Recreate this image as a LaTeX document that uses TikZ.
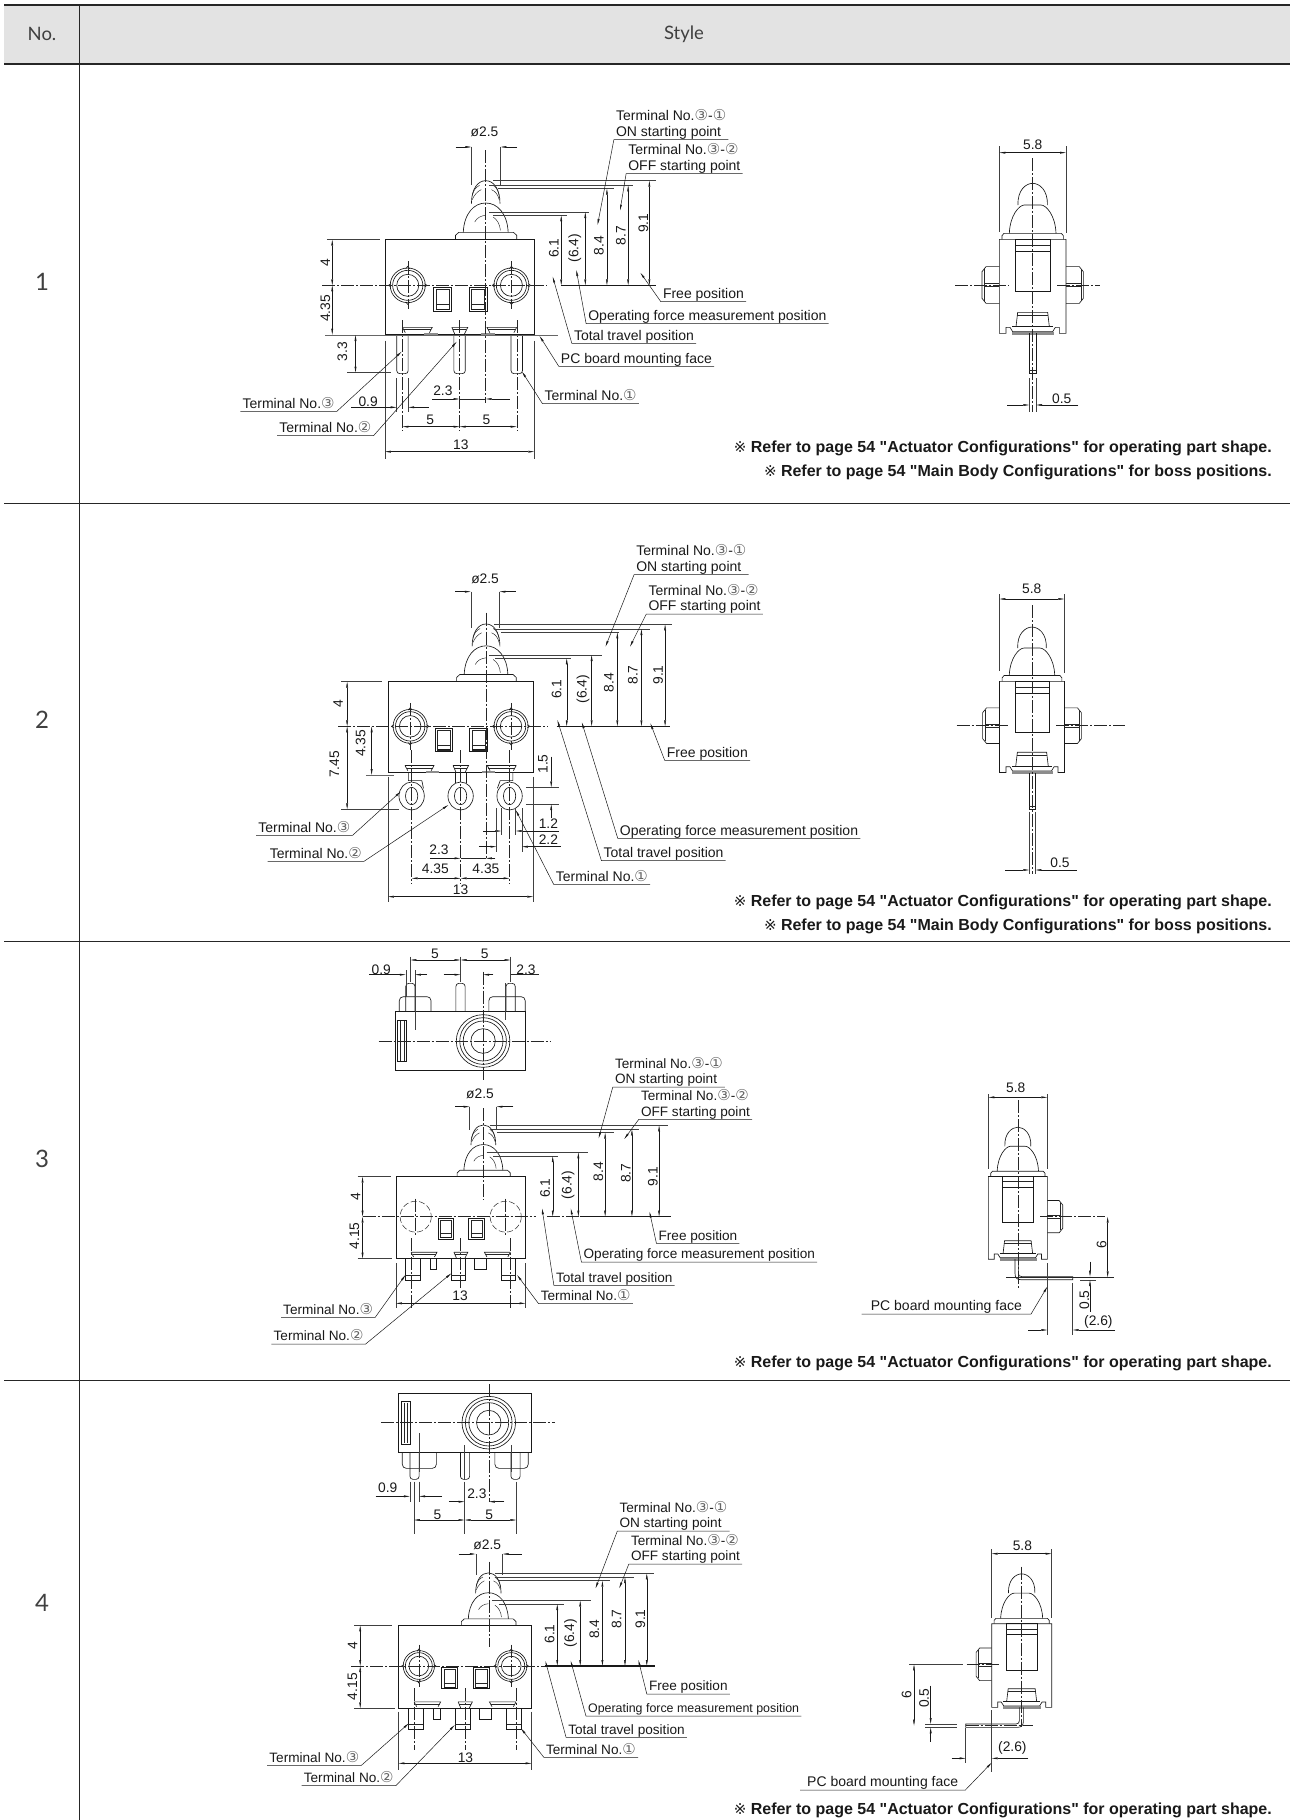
\documentclass[tikz,border=0pt]{standalone}
\usepackage{fontspec}
\setmainfont{Liberation Sans}
\newfontfamily\circfont{DejaVu Sans}
\newfontfamily\headfont{Lato}
\newfontfamily\notefont{Liberation Sans}
\usetikzlibrary{arrows.meta,calc,positioning}

\newcommand{\cn}[1]{{\circfont\fontsize{15}{15}\selectfont\textcolor{black!60}{#1}}}
\newcommand{\labstrut}{\rule[-3pt]{0pt}{10pt}}
\newcommand{\mk}{{\circfont\fontsize{15}{15}\mdseries\selectfont ※}\ }

\tikzset{
  outl/.style={line width=.65pt,black!90},
  thk/.style={line width=1.1pt,black!90},
  thn/.style={line width=.45pt,black!85},
  cline/.style={line width=.45pt,black!85,dash pattern=on 13pt off 2pt on 2pt off 2pt},
  hidn/.style={line width=.5pt,black!85,dash pattern=on 6pt off 2.5pt},
  ext/.style={line width=.5pt,black!75},
  dim/.style={line width=.45pt,black!90,{Triangle[length=6pt,width=1.8pt]}-{Triangle[length=6pt,width=1.8pt]}},
  lead/.style={line width=.5pt,black!90,-{Triangle[length=6pt,width=1.8pt]}},
  dtxt/.style={font=\fontsize{13.8}{15}\selectfont,inner sep=0pt,black!90},
  lab/.style={font=\fontsize{14}{15.5}\selectfont,inner xsep=2pt,inner ysep=0pt,align=left,black!90},
  note/.style={font=\notefont\fontsize{16}{18}\selectfont\bfseries,inner sep=0pt,anchor=east,black!90},
  head/.style={font=\headfont\fontsize{18.5}{20}\selectfont,inner sep=0pt,black!75},
  rowno/.style={font=\headfont\fontsize{24}{26}\selectfont,inner sep=0pt,black!75},
  % front view, origin on the body centre and the axis, #1 = body bottom
  frontview/.pic={
    \draw[outl] (-183,-137) rectangle (183,#1);
    \draw[outl] (-10,-137) -- (-10,-150) -- (-2,-159) -- (132,-159) -- (140,-150) -- (140,-137);
    \draw[outl] (9,-159) .. controls (11,-215) and (35,-247) .. (64,-247) .. controls (93,-247) and (117,-215) .. (119,-159);
    \draw[outl] (29,-245) .. controls (29,-290) and (45,-314) .. (64,-314) .. controls (83,-314) and (99,-290) .. (99,-245);
    \draw[thn] (31,-270) .. controls (34,-285) and (40,-295) .. (49,-300);
    \draw[thn] (31,-257) .. controls (36,-272) and (44,-282) .. (53,-287);
    \draw[thn] (97,-270) .. controls (94,-285) and (90,-295) .. (82,-300);
    \draw[thn] (97,-257) .. controls (94,-272) and (88,-282) .. (78,-287);
    \draw[thn] (37,-190) .. controls (42,-202) and (52,-209) .. (64,-210);
    \draw[thn] (82,-205) .. controls (92,-198) and (99,-182) .. (100,-165);
    \foreach \sx in {-64,23}{
      \draw[line width=.8pt,black!90] (\sx,5) rectangle ++(44,72);
      \draw[thn] (\sx+6,12) rectangle ++(32,60);
      \draw[thn] (\sx+6,58) -- ++(32,0);
      \draw[thk] (\sx+6,72) -- ++(32,0);
    }
    \draw[outl] (-140,#1-22) -- (-67,#1-22) -- (-74,#1-6);
    \draw[outl] (-140,#1-22) -- (-133,#1-6);
    \draw[thn] (-136,#1-15) -- (-70,#1-15);
    \draw[outl] (-19,#1-22) -- (20,#1-22) -- (12,#1-2);
    \draw[outl] (-19,#1-22) -- (-12,#1-2);
    \draw[thn] (-16,#1-15) -- (16,#1-15);
    \draw[outl] (140,#1-22) -- (67,#1-22) -- (74,#1-6);
    \draw[outl] (140,#1-22) -- (133,#1-6);
    \draw[thn] (136,#1-15) -- (70,#1-15);
  },
  holes/.pic={
    \foreach \hx in {-127,127}{
      \draw[outl] (\hx,0) ellipse [x radius=43,y radius=52];
      \draw[outl] (\hx,0) ellipse [x radius=37,y radius=45];
      \draw[outl] (\hx,0) ellipse [x radius=27,y radius=33];
      \draw[outl] (\hx-5,-50) -- (\hx,-57) -- (\hx+5,-50);
      \draw[outl] (\hx-5,50) -- (\hx,57) -- (\hx+5,50);
      \draw[outl] (\hx-41,-5) -- (\hx-47,0) -- (\hx-41,5);
      \draw[outl] (\hx+41,-5) -- (\hx+47,0) -- (\hx+41,5);
      \draw[cline] (\hx,-72) -- (\hx,72);
    }
  },
  hiddenholes/.pic={
    \foreach \hx in {-127,127}{
      \draw[hidn] (\hx,0) ellipse [x radius=44,y radius=53];
      \draw[cline] (\hx,-62) -- (\hx,62);
    }
  },
  pads/.pic={
    \fill[black!45] (-87,-6) rectangle (-54,0);
    \fill[black!45] (53,-6) rectangle (86,0);
  },
  % right angle terminals seen from the front
  rtabs/.pic={
    \foreach \tx in {-156,-27,114}{
      \draw[outl] (\tx,0) rectangle ++(41,64);
      \draw[thn] (\tx,49) -- ++(41,0);
    }
    \draw[outl] (-87,0) rectangle ++(18,32);
    \draw[outl] (38,0) rectangle ++(35,32);
  },
  % side view, origin on the centre line and the axis
  sideview/.pic={
    \draw[outl] (-100,-137) -- (-100,145) -- (-80,145) -- (-80,127) -- (-68,127) -- (-60,140) -- (60,140) -- (68,127) -- (80,127) -- (80,145) -- (100,145) -- (100,-137) -- cycle;
    \draw[outl] (-92,-137) -- (-92,-148) -- (-86,-155) -- (86,-155) -- (92,-148) -- (92,-137);
    \draw[outl] (-70,-155) .. controls (-68,-210) and (-40,-240) .. (-25,-240) -- (25,-240) .. controls (40,-240) and (68,-210) .. (70,-155);
    \draw[outl] (-44,-240) .. controls (-46,-285) and (-20,-305) .. (0,-305) .. controls (20,-305) and (46,-285) .. (44,-240);
    \draw[outl] (-51,-137) rectangle (52,20);
    \draw[thn] (-51,-120) -- (52,-120);
    \draw[thk] (-51,-100) -- (52,-100);
    \draw[outl] (-50,125) -- (-45,82) -- (45,82) -- (50,125);
    \draw[thn] (-46,90) -- (46,90);
    \draw[outl] (-62,125) -- (62,125);
    \fill[black!45] (-62,140) rectangle (64,150);
  },
  sideboss/.pic={
    \draw[outl] (100,-55) -- (140,-55) -- (152,-40) -- (152,40) -- (140,55) -- (100,55);
    \draw[thn] (145,-47) -- (145,47);
    \draw[thn] (100,-4) -- (145,-4);
    \draw[thn] (100,5) -- (145,5);
  },
  topring/.pic={
    \foreach \rx/\ry in {70/79,61/70,52/60,32/37}{\draw[outl] (0,0) ellipse [x radius=\rx,y radius=\ry];}
  }
}

% name, left end of the underline, text, arrow point: leader leaves the left end
\newcommand{\lblw}[5][]{%
  \node (#2) [lab,anchor=south west,#1] at (#3) {#4\labstrut};
  \coordinate (#2tip) at (#5);
  \draw[lead] (#2.south east) -- (#2.south west) -- (#2tip);}
% the same, the leader leaves the right end
\newcommand{\lble}[5][]{%
  \node (#2) [lab,anchor=south west,#1] at (#3) {#4\labstrut};
  \coordinate (#2tip) at (#5);
  \draw[lead] (#2.south west) -- (#2.south east) -- (#2tip);}
% prefix, axis y, list of stroke/dim x/top y/line start/line end/text x/text y/text
\newcommand{\heights}[3]{%
  \foreach \nm/\xd/\yt/\xa/\xb/\xt/\yy/\tt in {#3}{
    \draw[ext] (\xa,\yt) -- (\xb,\yt);
    \draw[dim] (\xd,\yt) -- (\xd,#2);
    \node (#1\nm) [dtxt,rotate=90] at (\xt,\yy) {\tt};
  }}

\begin{document}
\begin{tikzpicture}[x=1pt,y=-1pt]
\useasboundingbox (0,0) rectangle (1290,1820);

% table
\fill[black!11] (4,5) rectangle (1290,64);
\draw[line width=1.6pt,black!85] (4,5) -- (1290,5);
\draw[line width=1.6pt,black!85] (4,64) -- (1290,64);
\draw[line width=.8pt,black!85] (79.5,5) -- (79.5,1820);
\foreach \yr in {503,941.5,1380.5}{\draw[line width=.9pt,black!85] (4,\yr) -- (1290,\yr);}
\node (hno) [head] at (42,34) {No.};
\node (hstyle) [head] at (684,34) {Style};
\node (no1) [rowno] at (42,282) {1};
\node (no2) [rowno] at (42,720) {2};
\node (no3) [rowno] at (42,1159) {3};
\node (no4) [rowno] at (42,1603) {4};

\node (n1a) [note] at (1272,448) {\mk Refer to page 54 "Actuator Configurations" for operating part shape.};
\node (n1b) [note] at (1272,472) {\mk Refer to page 54 "Main Body Configurations" for boss positions.};
\node (n2a) [note] at (1272,902.5) {\mk Refer to page 54 "Actuator Configurations" for operating part shape.};
\node (n2b) [note] at (1272,926.5) {\mk Refer to page 54 "Main Body Configurations" for boss positions.};
\node (n3a) [note] at (1272,1363.5) {\mk Refer to page 54 "Actuator Configurations" for operating part shape.};
\node (n4a) [note] at (1272,1810) {\mk Refer to page 54 "Actuator Configurations" for operating part shape.};

% ---------- row 1, front view
\begin{scope}[shift={(220,90)},x=.40816pt,y=-.33333pt]
  \pic at (587,586) {frontview=148};
  \pic at (587,586) {holes};
  \pic at (587,734) {pads};
  \foreach \x in {447,587,727}{
    \draw[outl,rounded corners=3pt] (\x-14,735) -- (\x-14,851) -- (\x+14,851) -- (\x+14,735);
    \draw[cline] (\x,690) -- (\x,1022);
  }
  \draw[cline] (651,180) -- (651,940);
  \draw[cline] (250,586) -- (800,586);
  \draw[thk] (835,586) -- (1068,586);
  \draw[line width=1pt,black!60] (258,735) -- (828,735);
  \heights{a}{586}{h91/1052/272/670/1068/1037/400/9.1,h87/1000/286/660/1012/982/437/8.7,h84/948/296/680/965/928/467/8.4,h64/895/366/660/905/869/475/{(6.4)},h61/836/376/670/850/818/475/6.1}
  \draw[ext] (616,171) -- (616,285);
  \draw[ext] (687,171) -- (687,285);
  \draw[lead] (577,171) -- (616,171);
  \draw[lead] (728,171) -- (687,171);
  \node (adia) [dtxt] at (648,125) {ø2.5};
  \draw[ext] (262,449) -- (393,449);
  \draw[dim] (275,449) -- (275,586);
  \draw[dim] (275,586) -- (275,734);
  \node (ad4) [dtxt,rotate=90] at (258,517) {4};
  \node (ad435) [dtxt,rotate=90] at (258,655) {4.35};
  \draw[ext] (312,848) -- (420,848);
  \draw[dim] (332,735) -- (332,848);
  \node (ad33) [dtxt,rotate=90] at (300,785) {3.3};
  \draw[ext] (404,752) -- (404,1108);
  \draw[ext] (770,752) -- (770,1108);
  \draw[dim] (404,1085) -- (770,1085);
  \node (ad13) [dtxt] at (590,1065) {13};
  \draw[dim] (447,1010) -- (587,1010);
  \draw[dim] (587,1010) -- (727,1010);
  \node (ad5a) [dtxt] at (515,988) {5};
  \node (ad5b) [dtxt] at (653,988) {5};
  \draw[thn] (587,927) -- (651,927);
  \draw[lead] (520,927) -- (587,927);
  \draw[lead] (710,927) -- (651,927);
  \node (ad23) [dtxt] at (546,902) {2.3};
  \draw[ext] (433,865) -- (433,965);
  \draw[ext] (461,865) -- (461,965);
  \draw[lead] (322,952) -- (433,952);
  \draw[lead] (512,952) -- (461,952);
  \node (ad09) [dtxt] at (363,934) {0.9};
  \lblw{aon}{965,149}{Terminal No.\cn{③}-\cn{①}\\ON starting point}{925,405}
  \lblw{aoff}{995,251}{Terminal No.\cn{③}-\cn{②}\\OFF starting point}{980,362}
  \lblw{afree}{1080,635}{Free position}{1030,548}
  \lblw{aforce}{897,701}{Operating force measurement position}{873,540}
  \lblw{atravel}{862,760}{Total travel position}{815,560}
  \lblw{aface}{830,829}{PC board mounting face}{783,738}
  \lblw{at1}{790,941}{Terminal No.\cn{①}}{740,845}
  \lble{at3}{50,964}{Terminal No.\cn{③}}{445,785}
  \lble{at2}{140,1037}{Terminal No.\cn{②}}{580,755}
\end{scope}

% ---------- row 1, side view
\begin{scope}[shift={(930,120)},x=.33333pt,y=-.33333pt]
  \pic at (308,495) {sideview};
  \pic at (308,495) {sideboss};
  \pic[xscale=-1] at (308,495) {sideboss};
  \draw[outl] (298,640) -- (298,760) -- (318,760) -- (318,640);
  \draw[thn] (298,750) -- (318,750);
  \draw[cline] (308,115) -- (308,875);
  \draw[cline] (75,495) -- (235,495);
  \draw[cline] (382,495) -- (510,495);
  \draw[ext] (208,78) -- (208,335);
  \draw[ext] (408,78) -- (408,340);
  \draw[dim] (208,98) -- (408,98);
  \node (as58) [dtxt] at (308,75) {5.8};
  \draw[ext] (298,775) -- (298,875);
  \draw[ext] (318,775) -- (318,875);
  \draw[lead] (232,855) -- (298,855);
  \draw[lead] (445,855) -- (318,855);
  \node (as05) [dtxt] at (395,835) {0.5};
\end{scope}

% ---------- row 2, front view
\begin{scope}[shift={(230,530)},x=.40816pt,y=-.33333pt]
  \pic[xscale=.973,yscale=.978] at (565,589) {frontview=142};
  \pic[xscale=.973,yscale=.978] at (565,589) {holes};
  \pic[xscale=.973] at (565,728) {pads};
  \foreach \x in {445,565,685}{
    \draw[outl] (\x,798) ellipse [x radius=31,y radius=42];
    \draw[outl] (\x,798) ellipse [x radius=15,y radius=26];
    \draw[cline] (\x,660) -- (\x,1060);
  }
  \draw[outl] (437,728) -- (437,752) -- (470,752) -- (474,775);
  \draw[outl] (552,728) -- (552,758);
  \draw[outl] (578,728) -- (578,758);
  \draw[outl] (693,728) -- (693,752) -- (662,752) -- (655,775);
  \draw[cline] (627,248) -- (627,985);
  \draw[cline] (265,589) -- (780,589);
  \draw[thk] (800,589) -- (1078,589);
  \draw[line width=1pt,black!60] (333,735) -- (403,735);
  \heights{b}{589}{h91/1066/283/648/1083/1049/435/9.1,h87/1008/297/650/1030/987/435/8.7,h84/949/307/665/952/928/458/8.4,h64/886/375/635/912/865/478/{(6.4)},h61/825/385/650/835/800/478/6.1}
  \draw[ext] (590,185) -- (590,295);
  \draw[ext] (660,185) -- (660,295);
  \draw[lead] (552,185) -- (590,185);
  \draw[lead] (700,185) -- (660,185);
  \node (bdia) [dtxt] at (625,145) {ø2.5};
  \draw[ext] (272,455) -- (372,455);
  \draw[ext] (273,838) -- (413,838);
  \draw[dim] (287,455) -- (287,589);
  \draw[dim] (287,589) -- (287,838);
  \node (bd4) [dtxt,rotate=90] at (265,520) {4};
  \node (bd745) [dtxt,rotate=90] at (256,703) {7.45};
  \draw[dim] (347,589) -- (347,735);
  \node (bd435) [dtxt,rotate=90] at (320,640) {4.35};
  \draw[ext] (387,740) -- (387,1115);
  \draw[ext] (743,740) -- (743,1115);
  \draw[dim] (387,1100) -- (743,1100);
  \node (bd13) [dtxt] at (565,1080) {13};
  \draw[dim] (445,1045) -- (565,1045);
  \draw[dim] (565,1045) -- (685,1045);
  \node (bd435a) [dtxt] at (503,1017) {4.35};
  \node (bd435b) [dtxt] at (627,1017) {4.35};
  \draw[thn] (565,985) -- (627,985);
  \draw[lead] (490,985) -- (565,985);
  \draw[lead] (650,985) -- (627,985);
  \node (bd23) [dtxt] at (512,960) {2.3};
  \draw[ext] (665,835) -- (665,915);
  \draw[ext] (700,835) -- (700,915);
  \draw[lead] (620,903) -- (665,903);
  \draw[lead] (805,903) -- (700,903);
  \node (bd12) [dtxt] at (780,882) {1.2};
  \draw[ext] (653,835) -- (653,965);
  \draw[ext] (715,835) -- (715,965);
  \draw[lead] (610,950) -- (653,950);
  \draw[lead] (810,950) -- (715,950);
  \node (bd22) [dtxt] at (780,930) {2.2};
  \draw[ext] (725,772) -- (805,772);
  \draw[ext] (725,822) -- (805,822);
  \draw[lead] (787,680) -- (787,772);
  \draw[lead] (787,865) -- (787,822);
  \node (bd15) [dtxt,rotate=90] at (767,702) {1.5};
  \lblw{bon}{990,134}{Terminal No.\cn{③}-\cn{①}\\ON starting point}{920,350}
  \lblw{boff}{1020,252}{Terminal No.\cn{③}-\cn{②}\\OFF starting point}{980,350}
  \lblw{bfree}{1065,691}{Free position}{1030,580}
  \lblw{bforce}{950,925}{Operating force measurement position}{862,577}
  \lblw{btravel}{910,992}{Total travel position}{802,570}
  \lblw{bt1}{793,1063}{Terminal No.\cn{①}}{700,840}
  \lble{bt3}{64,916}{Terminal No.\cn{③}}{418,785}
  \lble{bt2}{92,994}{Terminal No.\cn{②}}{535,825}
\end{scope}

% ---------- row 2, side view
\begin{scope}[shift={(930,560)},x=.33333pt,y=-.33333pt]
  \pic[xscale=.975,yscale=.97] at (306,497) {sideview};
  \pic[xscale=.975,yscale=.97] at (306,497) {sideboss};
  \pic[xscale=-.975,yscale=.97] at (306,497) {sideboss};
  \draw[outl] (298,640) -- (298,748) -- (316,748) -- (316,640);
  \draw[thn] (298,740) -- (316,740);
  \draw[cline] (306,135) -- (306,942);
  \draw[cline] (80,497) -- (235,497);
  \draw[cline] (378,497) -- (585,497);
  \draw[ext] (208,103) -- (208,333);
  \draw[ext] (403,103) -- (403,340);
  \draw[dim] (208,117) -- (403,117);
  \node (bs58) [dtxt] at (305,87) {5.8};
  \draw[ext] (298,755) -- (298,942);
  \draw[ext] (316,755) -- (316,942);
  \draw[lead] (225,930) -- (298,930);
  \draw[lead] (440,930) -- (316,930);
  \node (bs05) [dtxt] at (390,908) {0.5};
\end{scope}

% ---------- row 3, top and front view
\begin{scope}[shift={(260,940)},x=.38265pt,y=-.33333pt,lab/.append style={font=\fontsize{13.6}{15.5}\selectfont}]
  \draw[outl] (353,215) rectangle (694,390);
  \pic at (583,303) {topring};
  \draw[outl] (360,240) rectangle (383,365);
  \draw[thn] (366,243) -- (366,362);
  \draw[thn] (377,243) -- (377,362);
  \draw[outl,rounded corners=4pt] (364,215) -- (364,170) -- (447,170) -- (447,215);
  \draw[outl,rounded corners=4pt] (598,215) -- (598,170) -- (693,170) -- (693,215);
  \foreach \x in {393,524,655}{
    \draw[outl,rounded corners=3pt] (\x-12,215) -- (\x-12,130) -- (\x+12,130) -- (\x+12,215);
    \draw[ext] (\x,50) -- (\x,125);
  }
  \draw[cline] (310,303) -- (760,303);
  \draw[cline] (583,95) -- (583,420);
  \draw[ext] (381,90) -- (381,170);
  \draw[ext] (405,90) -- (405,270);
  \draw[ext] (642,130) -- (642,240);
  \draw[dim] (393,60) -- (524,60);
  \draw[dim] (524,60) -- (655,60);
  \node (ct5a) [dtxt] at (457,42) {5};
  \node (ct5b) [dtxt] at (587,42) {5};
  \draw[lead] (285,104) -- (381,104);
  \draw[lead] (437,104) -- (405,104);
  \node (ct09) [dtxt] at (317,88) {0.9};
  \draw[lead] (480,104) -- (524,104);
  \draw[lead] (610,104) -- (583,104);
  \draw[thn] (655,104) -- (730,104);
  \node (ct23) [dtxt] at (695,88) {2.3};

  \pic[xscale=.926,yscale=.876] at (524.5,830) {frontview=144};
  \pic[xscale=.926,yscale=.876] at (524.5,830) {hiddenholes};
  \pic[xscale=.926] at (524.5,956) {rtabs};
  \draw[cline] (394,895) -- (394,1110);
  \draw[cline] (524,895) -- (524,1045);
  \draw[cline] (655,895) -- (655,1110);
  \draw[cline] (583,505) -- (583,780);
  \draw[cline] (268,830) -- (720,830);
  \draw[thk] (835,830) -- (1075,830);
  \draw[cline] (750,830) -- (835,830);
  \heights{c}{830}{h91/1043/556/600/1065/1027/710/9.1,h87/972/568/605/990/956/700/8.7,h84/902/578/620/925/884/695/8.4,h64/832/637/592/857/805/735/{(6.4)},h61/765/648/610/780/745/745/6.1}
  \draw[ext] (548,500) -- (548,570);
  \draw[ext] (618,500) -- (618,570);
  \draw[lead] (510,500) -- (548,500);
  \draw[lead] (662,500) -- (618,500);
  \node (cdia) [dtxt] at (575,462) {ø2.5};
  \draw[ext] (255,710) -- (342,710);
  \draw[ext] (255,956) -- (345,956);
  \draw[dim] (268,710) -- (268,830);
  \draw[dim] (268,830) -- (268,956);
  \node (cd4) [dtxt,rotate=90] at (250,770) {4};
  \node (cd415) [dtxt,rotate=90] at (247,888) {4.15};
  \draw[ext] (355,970) -- (355,1105);
  \draw[ext] (694,970) -- (694,1105);
  \draw[dim] (355,1090) -- (694,1090);
  \node (cd13) [dtxt] at (523,1068) {13};
  \lblw{con}{922,441}{Terminal No.\cn{③}-\cn{①}\\ON starting point}{885,595}
  \lblw{coff}{990,538}{Terminal No.\cn{③}-\cn{②}\\OFF starting point}{952,597}
  \lblw{cfree}{1036,910}{Free position}{1018,815}
  \lblw{cforce}{840,966}{Operating force measurement position}{812,805}
  \lblw{ctravel}{768,1036}{Total travel position}{737,805}
  \lblw{ct1}{728,1091}{Terminal No.\cn{①}}{672,1005}
  \lble{ct3}{55,1132}{Terminal No.\cn{③}}{380,1005}
  \lble{ct2}{30,1212}{Terminal No.\cn{②}}{500,1000}
\end{scope}

% ---------- row 3, side view
\begin{scope}[shift={(840,1060)},x=.33333pt,y=-.33333pt]
  \pic[xscale=.885,yscale=.88] at (533.5,470) {sideview};
  \pic[xscale=.885,yscale=.88] at (533.5,470) {sideboss};
  \draw[outl] (525,597) -- (525,640) .. controls (525,652) and (530,659) .. (542,659) -- (698,659) -- (698,650) -- (546,650) .. controls (538,650) and (535,646) .. (535,640) -- (535,597);
  \draw[cline] (533.5,120) -- (533.5,690);
  \draw[cline] (600,470) -- (795,470);
  \draw[ext] (445,103) -- (445,328);
  \draw[ext] (622,103) -- (622,328);
  \draw[dim] (445,112) -- (622,112);
  \node (cs58) [dtxt] at (527,82) {5.8};
  \draw[dim] (803,470) -- (803,652);
  \node (cs6) [dtxt,rotate=90] at (785,555) {6};
  \draw[thn] (498,652) -- (700,652);
  \draw[thn] (700,652) -- (822,652);
  \draw[ext] (720,660) -- (768,660);
  \draw[lead] (750,605) -- (750,650);
  \draw[lead] (750,755) -- (750,660);
  \node (cs05) [dtxt,rotate=90] at (733,720) {0.5};
  \draw[ext] (622,610) -- (622,825);
  \draw[ext] (698,670) -- (698,825);
  \draw[lead] (565,810) -- (622,810);
  \draw[lead] (825,810) -- (698,810);
  \node (cs26) [dtxt] at (775,785) {(2.6)};
  \lble[inner xsep=9pt]{cface}{65,762}{PC board mounting face}{622,680}
\end{scope}

% ---------- row 4, top and front view
\begin{scope}[shift={(250,1380)},x=.38265pt,y=-.33333pt,lab/.append style={font=\fontsize{13.6}{15.5}\selectfont}]
  \draw[outl] (388,40) rectangle (736,218);
  \pic at (624,128) {topring};
  \draw[outl] (395,65) rectangle (418,193);
  \draw[thn] (402,68) -- (402,190);
  \draw[thn] (412,68) -- (412,190);
  \draw[outl,rounded corners=4pt] (398,218) -- (398,265) -- (487,265) -- (487,218);
  \draw[outl,rounded corners=4pt] (640,218) -- (640,265) -- (727,265) -- (727,218);
  \foreach \x in {430,562,694}{
    \draw[outl,rounded corners=3pt] (\x-12,218) -- (\x-12,298) -- (\x+12,298) -- (\x+12,218);
  }
  \foreach \x in {428,561,696}{\draw[ext] (\x,305) -- (\x,462);}
  \draw[cline] (342,128) -- (797,128);
  \draw[cline] (624,12) -- (624,365);
  \draw[ext] (561,195) -- (561,300);
  \draw[ext] (442,160) -- (442,275);
  \draw[ext] (682,195) -- (682,275);
  \draw[ext] (418,305) -- (418,365);
  \draw[ext] (442,305) -- (442,365);
  \draw[lead] (328,349) -- (418,349);
  \draw[lead] (502,349) -- (442,349);
  \node (dt09) [dtxt] at (360,322) {0.9};
  \draw[lead] (520,365) -- (561,365);
  \draw[lead] (665,365) -- (624,365);
  \node (dt23) [dtxt] at (593,342) {2.3};
  \draw[dim] (428,420) -- (561,420);
  \draw[dim] (561,420) -- (696,420);
  \node (dt5a) [dtxt] at (490,403) {5};
  \node (dt5b) [dtxt] at (625,403) {5};

  \pic[xscale=.951,yscale=.89] at (562,858) {frontview=143};
  \pic[xscale=.951,yscale=.89] at (562,858) {holes};
  \pic[xscale=.951] at (562,985) {rtabs};
  \foreach \x in {428,562,695}{\draw[cline] (\x,925) -- (\x,1110);}
  \draw[cline] (624,545) -- (624,800);
  \draw[cline] (265,858) -- (770,858);
  \draw[thk] (770,858) -- (1058,858);
  \heights{d}{858}{h91/1037/580/640/1055/1020/717/9.1,h87/980/591/640/1003/958/717/8.7,h84/921/602/650/942/900/748/8.4,h64/863/662/632/890/838/760/{(6.4)},h61/803/672/650/820/783/762/6.1}
  \draw[ext] (590,522) -- (590,585);
  \draw[ext] (660,522) -- (660,585);
  \draw[lead] (545,522) -- (590,522);
  \draw[lead] (710,522) -- (660,522);
  \node (ddia) [dtxt] at (620,495) {ø2.5};
  \draw[ext] (273,736) -- (372,736);
  \draw[ext] (272,985) -- (380,985);
  \draw[dim] (288,736) -- (288,858);
  \draw[dim] (288,858) -- (288,985);
  \node (dd4) [dtxt,rotate=90] at (268,797) {4};
  \node (dd415) [dtxt,rotate=90] at (268,920) {4.15};
  \draw[ext] (388,995) -- (388,1170);
  \draw[ext] (736,995) -- (736,1170);
  \draw[dim] (388,1150) -- (736,1150);
  \node (dd13) [dtxt] at (563,1132) {13};
  \lblw{don}{960,453}{Terminal No.\cn{③}-\cn{①}\\ON starting point}{903,625}
  \lblw{doff}{990,552}{Terminal No.\cn{③}-\cn{②}\\OFF starting point}{965,625}
  \lblw{dfree}{1037,942}{Free position}{1015,840}
  \lblw[font=\fontsize{12.4}{15}\selectfont]{dforce}{878,1008}{Operating force measurement position}{838,842}
  \lblw{dtravel}{826,1072}{Total travel position}{772,843}
  \lblw{dt1}{768,1132}{Terminal No.\cn{①}}{708,1045}
  \lble{dt3}{45,1156}{Terminal No.\cn{③}}{415,1030}
  \lble{dt2}{135,1217}{Terminal No.\cn{②}}{535,1035}
\end{scope}

% ---------- row 4, side view
\begin{scope}[shift={(800,1520)},x=.33333pt,y=-.33333pt]
  \pic[xscale=.9,yscale=.89] at (665,433) {sideview};
  \pic[xscale=-.9,yscale=.89] at (665,433) {sideboss};
  \draw[outl] (670,562) -- (670,605) .. controls (670,616) and (664,622) .. (652,622) -- (497,622) -- (497,612) -- (648,612) .. controls (655,612) and (658,608) .. (658,602) -- (658,562);
  \draw[cline] (665,140) -- (665,620);
  \draw[cline] (500,433) -- (600,433);
  \draw[cline] (497,617) -- (700,617);
  \draw[ext] (575,88) -- (575,295);
  \draw[ext] (755,88) -- (755,295);
  \draw[dim] (575,101) -- (755,101);
  \node (ds58) [dtxt] at (667,78) {5.8};
  \draw[ext] (328,433) -- (490,433);
  \draw[dim] (342,433) -- (342,617);
  \node (ds6) [dtxt,rotate=90] at (320,525) {6};
  \draw[ext] (375,612) -- (470,612);
  \draw[ext] (375,622) -- (470,622);
  \draw[lead] (392,497) -- (392,612);
  \draw[lead] (392,665) -- (392,622);
  \node (ds05) [dtxt,rotate=90] at (372,535) {0.5};
  \draw[ext] (497,625) -- (497,730);
  \draw[ext] (575,570) -- (575,755);
  \draw[lead] (455,715) -- (497,715);
  \draw[lead] (685,715) -- (575,715);
  \node (ds26) [dtxt] at (637,685) {(2.6)};
  \lble[inner xsep=7pt]{dface}{0,810}{PC board mounting face}{575,728}
\end{scope}
\end{tikzpicture}
\end{document}
